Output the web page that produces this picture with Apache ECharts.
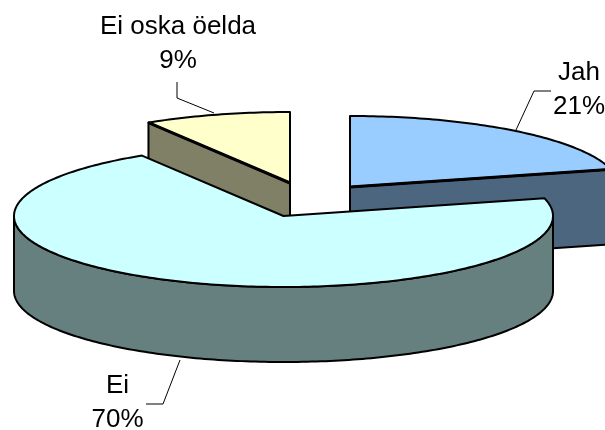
<!DOCTYPE html>
<html>
<head>
<meta charset="utf-8">
<style>
html, body { margin: 0; padding: 0; background: #fff; }
#chart { width: 605px; height: 430px; }
</style>
<script src="https://cdn.jsdelivr.net/npm/echarts@6/dist/echarts.min.js"></script>
</head>
<body>
<div id="chart"></div>
<script>
const categories = ["Jah", "Ei", "Ei oska öelda"];
// read from the slice edges, the labels show them rounded
const shares = [21, 70.2, 8.8];

// one entry per slice, same order as categories
const topColors = ["#99CCFF", "#CCFFFF", "#FFFFCC"];
const sideColors = ["#4C6680", "#668080", "#808066"];
const apex = [[350, 187], [283.5, 216], [290, 183]];
const drawOrder = [1, 3, 2];
const labelPos = [[579, 72.5], [117.5, 385.5], [178, 26.5]];
const leaders = [
	[[551, 91], [534, 91], [516, 130]],
	[[146, 404], [163, 404], [180, 360]],
	[[177, 82], [177, 98], [214, 113]]
];

const RX = 269.5;
const RY = 71;
const DEPTH = 75;
const LINE_GAP = 34;
const total = shares.reduce((a, b) => a + b, 0);

const chart = echarts.init(document.getElementById("chart"));

function onRim (c, deg, drop) {
	const r = deg * Math.PI / 180;
	return [c[0] + RX * Math.sin(r), c[1] - RY * Math.cos(r) + (drop || 0)];
}

function arc (c, from, to, drop) {
	const pts = [];
	for (let d = from; d < to; d += 1) {
		pts.push(onRim(c, d, drop));
	}
	pts.push(onRim(c, to, drop));
	return pts;
}

function shape (points, fill, z2) {
	return {
		type: "polygon",
		z2: z2,
		shape: { points: points },
		style: { fill: fill, stroke: "#000", lineWidth: 2, lineJoin: "round" }
	};
}

function renderSlice (params, api) {
	const i = params.dataIndex;
	const before = shares.slice(0, i).reduce((a, b) => a + b, 0);
	const start = before / total * 360;
	const end = start + api.value(0) / total * 360;
	const c = apex[i];
	const z = drawOrder[i] * 10;
	const children = [];
	const cutEdges = [];

	// cut faces, only the ones turned to the viewer
	[[start, -1], [end, 1]].forEach(([deg, sign]) => {
		if (sign * Math.sin(deg * Math.PI / 180) > 0.001) {
			const rim = onRim(c, deg);
			children.push(shape([c, rim, [rim[0], rim[1] + DEPTH], [c[0], c[1] + DEPTH]], sideColors[i], z));
			cutEdges.push([c, rim]);
		}
	});

	// outer wall, front half of the rim
	const wallFrom = Math.max(start, 90);
	const wallTo = Math.min(end, 270);
	if (wallFrom < wallTo) {
		children.push(shape(
			arc(c, wallFrom, wallTo, 0).concat(arc(c, wallFrom, wallTo, DEPTH).reverse()),
			sideColors[i], z + 1
		));
	}

	children.push(shape([c].concat(arc(c, start, end, 0)), topColors[i], z + 2));

	// the edge above a cut face is heavier in the original
	cutEdges.forEach(pts => {
		children.push({
			type: "polyline",
			z2: z + 3,
			shape: { points: pts },
			style: { fill: null, stroke: "#000", lineWidth: 3 }
		});
	});

	// label and leader line
	children.push({
		type: "polyline",
		z2: 50,
		shape: { points: leaders[i] },
		style: { fill: null, stroke: "#000", lineWidth: 1 }
	});
	[categories[i], Math.round(api.value(0)) + "%"].forEach((txt, n) => {
		children.push({
			type: "text",
			z2: 50,
			x: labelPos[i][0],
			y: labelPos[i][1] + n * LINE_GAP,
			style: {
				text: txt,
				fill: "#000",
				font: '26px "Liberation Sans", Arial, sans-serif',
				align: "center",
				verticalAlign: "middle"
			}
		});
	});

	return { type: "group", children: children };
}

const option = {
	animation: false,
	backgroundColor: "#fff",
	series: [{
		type: "custom",
		coordinateSystem: "none",
		silent: true,
		data: shares.map((v, i) => ({ name: categories[i], value: [v] })),
		renderItem: renderSlice
	}]
};

chart.setOption(option);
window.onresize = chart.resize;
</script>
</body>
</html>
